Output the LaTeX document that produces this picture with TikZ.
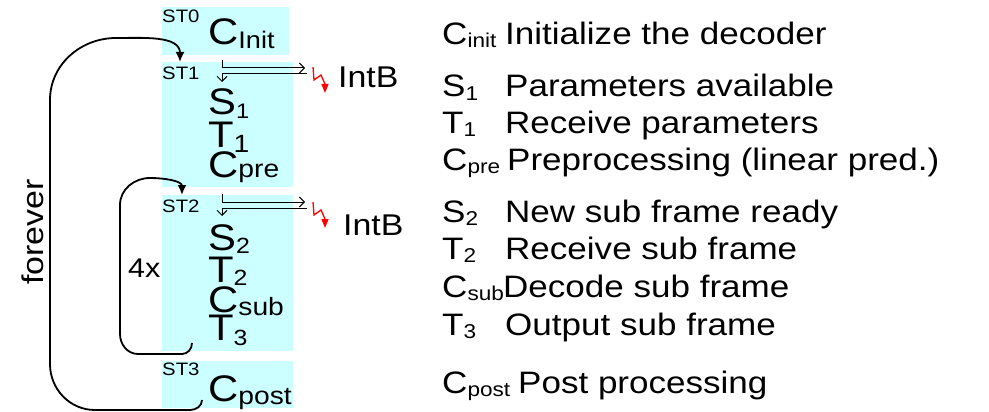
\documentclass[tikz,border=0pt]{standalone}
\usepackage{fontspec}
\setmainfont[FakeStretch=1.13]{Liberation Sans}
\usetikzlibrary{arrows.meta, positioning, calc}

\definecolor{stcyan}{HTML}{CCFFFF}

% font size in pt with matching baseline skip
\newcommand{\fsz}[1]{\fontsize{#1}{#1}\selectfont}
% lowered index: size, drop, text
\newcommand{\idx}[3]{\raisebox{-#2pt}{\fsz{#1}#3}}

\begin{document}
\begin{tikzpicture}[x=1pt, y=1pt,
    % state boxes and what stands in them
    stbox/.style={fill=stcyan, inner sep=0pt, outer sep=0pt, anchor=north west},
    stname/.style={anchor=base west, inner sep=0pt, font=\fsz{18}},
    op/.style={anchor=base west, inner sep=0pt, font=\fsz{37}},
    % legend column
    legop/.style={anchor=base west, inner sep=0pt, font=\fsz{31}},
    legtxt/.style={legop},
    plain/.style={anchor=base west, inner sep=0pt, font=\fsz{30}},
    % arrows
    rep/.style={line width=1.8pt, -{Latex[length=10pt, width=9pt]}},
    sig/.style={line width=1pt, -{Straight Barb[length=5pt, width=10pt]}},
    bolt/.style={draw=red, line width=1.3pt, -{Triangle[length=9pt, width=7pt]}}]

\useasboundingbox (0,0) rectangle (989,-412);

% State boxes
\node[stbox, minimum width=127, minimum height=48] (st0) at (162,-7) {};
\node[stbox, minimum width=131, minimum height=125] (st1) at (162,-62) {};
\node[stbox, minimum width=131, minimum height=156] (st2) at (162,-195) {};
\node[stbox, minimum width=131, minimum height=47] (st3) at (162,-361) {};

% ST0
\node[stname] (st0name) at (162,-23) {ST0};
\node[op] (cinit) at (208,-45) {C\idx{24}{4}{Init}};

% ST1
\node[stname] (st1name) at (162,-80) {ST1};
\node[op] (s1) at (208,-114) {S\idx{21}{4}{1}};
\node[op] (t1) at (208,-147) {T\idx{25}{5}{1}};
\node[op] (cpre) at (208,-177) {C\idx{25}{0}{pre}};

% ST2
\node[stname] (st2name) at (162,-212) {ST2};
\node[op] (s2) at (208,-250) {S\idx{22}{3}{2}};
\node[op] (t2) at (208,-282) {T\idx{22}{3}{2}};
\node[op] (csub) at (208,-312) {C\idx{25}{3}{sub}};
\node[op] (t3) at (208,-340) {T\idx{22}{5}{3}};

% ST3
\node[stname] (st3name) at (162,-375) {ST3};
\node[op] (cpost) at (208,-401) {C\idx{25}{3}{post}};

% Interrupt handshake of ST1
\coordinate (q1a) at (222,-60);
\coordinate (q1b) at (305,-68);
\coordinate (q1c) at (307,-74);
\coordinate (q1d) at (222,-82);
\draw[sig] (q1a) |- (q1b);
\draw[sig] (q1c) -| (q1d);
\coordinate (b1) at (313,-67);
\draw[bolt] (b1) -- ++(1,-13) -- ++(7,5) -- ++(4,-9) -- ++(0,-9);
\node[plain] (intb1) at (338,-88) {IntB};

% Interrupt handshake of ST2
\coordinate (q2a) at (222,-194);
\coordinate (q2b) at (305,-202);
\coordinate (q2c) at (307,-208);
\coordinate (q2d) at (222,-216);
\draw[sig] (q2a) |- (q2b);
\draw[sig] (q2c) -| (q2d);
\coordinate (b2) at (313,-202);
\draw[bolt] (b2) -- ++(1,-13) -- ++(7,5) -- ++(4,-9) -- ++(0,-9);
\node[plain] (intb2) at (343,-235) {IntB};

% Outer loop back to ST1
\coordinate (fstart) at (202,-400);
\coordinate (fend) at (180,-62);
\draw[rep] (fstart) to[out=-90,in=0] (190,-410) -- (95,-410)
    to[out=180,in=-90] (50,-364) -- (50,-100)
    to[out=90,in=180] (116,-38) to[out=0,in=90] (fend);
\node[plain, rotate=90, anchor=base] (forever) at (43,-232) {forever};

% Sub frame loop back to ST2
\coordinate (lstart) at (192,-343);
\coordinate (lend) at (182,-195);
\draw[rep] (lstart) to[out=-90,in=0] (182,-354) -- (138,-354)
    to[out=180,in=-90] (120,-334) -- (120,-205)
    to[out=90,in=180] (150,-178) to[out=0,in=90] (lend);
\node[plain, font=\fsz{27}] (rep4) at (128,-277) {4x};

% Legend
\node[legop] (lcinit) at (442,-45) {C\idx{20}{3}{init}};
\node[legtxt] (dcinit) at (505,-45) {Initialize the decoder};
\node[legop] (ls1) at (442,-97) {S\idx{20}{3}{1}};
\node[legtxt] (ds1) at (505,-97) {Parameters available};
\node[legop] (lt1) at (442,-133) {T\idx{20}{3}{1}};
\node[legtxt] (dt1) at (505,-133) {Receive parameters};
\node[legop] (lcpre) at (442,-170) {C\idx{20}{3}{pre}};
\node[legtxt] (dcpre) at (507,-170) {Preprocessing (linear pred.)};
\node[legop] (ls2) at (442,-222) {S\idx{20}{3}{2}};
\node[legtxt] (ds2) at (505,-222) {New sub frame ready};
\node[legop] (lt2) at (442,-259) {T\idx{20}{3}{2}};
\node[legtxt] (dt2) at (505,-259) {Receive sub frame};
\node[legop] (lcsub) at (442,-297) {C\idx{20}{3}{sub}};
\node[legtxt] (dcsub) at (503,-297) {Decode sub frame};
\node[legop] (lt3) at (442,-335) {T\idx{20}{3}{3}};
\node[legtxt] (dt3) at (505,-335) {Output sub frame};
\node[legop] (lcpost) at (442,-393) {C\idx{20}{3}{post}};
\node[legtxt] (dcpost) at (518,-393) {Post processing};

\end{tikzpicture}
\end{document}
